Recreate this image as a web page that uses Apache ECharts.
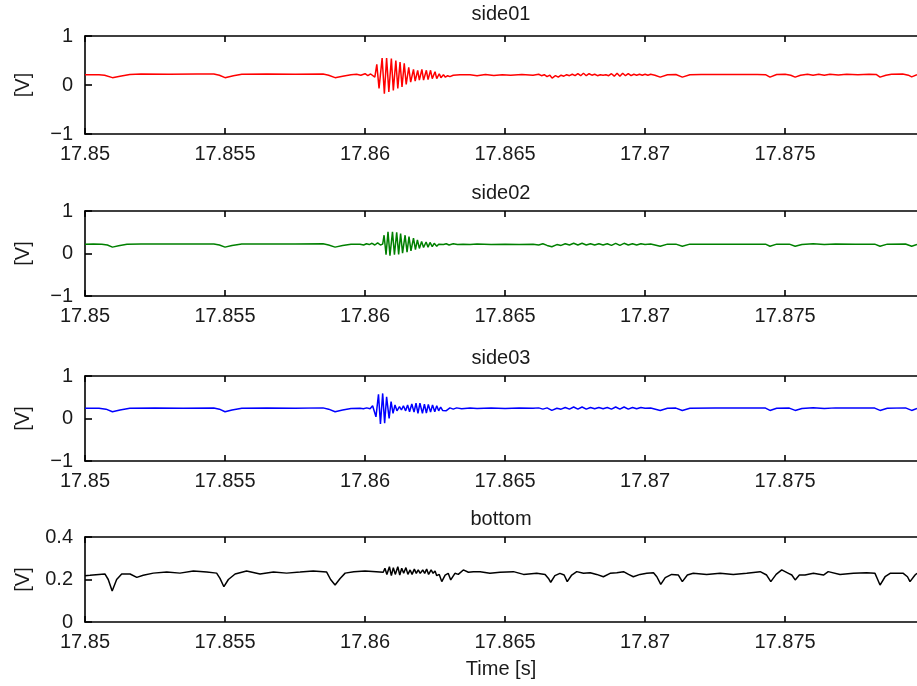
<!DOCTYPE html>
<html>
<head>
<meta charset="utf-8">
<script src="https://cdn.jsdelivr.net/npm/echarts@6/dist/echarts.min.js"></script>
<style>
  html, body { margin: 0; padding: 0; background: #fff; }
  #chart { width: 917px; height: 686px; }
</style>
</head>
<body>
<div id="chart"></div>
<script>
// panel titles and ticks
const titles = ['side01', 'side02', 'side03', 'bottom'];
const timeTicks = [17.85, 17.855, 17.86, 17.865, 17.87, 17.875];
const timeMin = 17.85;
const timeMax = 17.87971;

// side01 (red) [time s, volt]
const side01 = [
  [17.85000, 0.21], [17.85050, 0.21], [17.85070, 0.20], [17.85098, 0.15], [17.85125, 0.18],
  [17.85160, 0.215], [17.85200, 0.225], [17.85300, 0.22], [17.85400, 0.225], [17.85460, 0.225],
  [17.85480, 0.20], [17.85500, 0.15], [17.85530, 0.19], [17.85560, 0.22], [17.85650, 0.225],
  [17.85750, 0.22], [17.85850, 0.225], [17.85870, 0.20], [17.85893, 0.15], [17.85920, 0.18],
  [17.85950, 0.21], [17.85970, 0.22], [17.85985, 0.20], [17.86000, 0.23], [17.86010, 0.19],
  [17.86020, 0.225], [17.86035, 0.16],
  [17.86042, 0.42], [17.86050, -0.07], [17.86061, 0.55], [17.86069, -0.18], [17.86077, 0.55],
  [17.86085, -0.14], [17.86094, 0.54], [17.86101, -0.11], [17.86110, 0.50], [17.86117, -0.07],
  [17.86125, 0.47], [17.86132, -0.04], [17.86140, 0.44], [17.86147, 0.01], [17.86156, 0.36],
  [17.86163, 0.06], [17.86173, 0.32], [17.86179, 0.08], [17.86188, 0.30], [17.86194, 0.10],
  [17.86203, 0.32], [17.86209, 0.10], [17.86219, 0.30], [17.86225, 0.11], [17.86234, 0.30],
  [17.86240, 0.13], [17.86250, 0.27], [17.86256, 0.13], [17.86265, 0.23], [17.86271, 0.15],
  [17.86280, 0.21], [17.86287, 0.16], [17.86295, 0.19], [17.86303, 0.17], [17.86315, 0.20],
  [17.86339, 0.21], [17.86375, 0.21],
  [17.86400, 0.19], [17.86430, 0.215], [17.86460, 0.195], [17.86490, 0.21], [17.86520, 0.20],
  [17.86560, 0.215], [17.86600, 0.20],
  [17.86620, 0.22], [17.86630, 0.19], [17.86640, 0.21], [17.86650, 0.17], [17.86660, 0.20],
  [17.86668, 0.14], [17.86680, 0.19], [17.86690, 0.16], [17.86700, 0.20], [17.86710, 0.18],
  [17.86720, 0.21], [17.86730, 0.19], [17.86740, 0.22], [17.86750, 0.19], [17.86760, 0.23],
  [17.86770, 0.19], [17.86780, 0.24], [17.86790, 0.19], [17.86800, 0.23], [17.86810, 0.20],
  [17.86820, 0.22], [17.86830, 0.19], [17.86840, 0.21], [17.86850, 0.20], [17.86860, 0.21],
  [17.86870, 0.19], [17.86880, 0.23], [17.86890, 0.18], [17.86900, 0.24], [17.86910, 0.18],
  [17.86920, 0.24], [17.86930, 0.19], [17.86940, 0.23], [17.86950, 0.19], [17.86960, 0.22],
  [17.86970, 0.20], [17.86980, 0.22], [17.86990, 0.20], [17.87000, 0.22], [17.87010, 0.20],
  [17.87020, 0.22], [17.87035, 0.20],
  [17.87054, 0.16], [17.87080, 0.21], [17.87110, 0.215], [17.87133, 0.16], [17.87160, 0.21],
  [17.87200, 0.215], [17.87300, 0.215], [17.87400, 0.215], [17.87430, 0.21], [17.87446, 0.16],
  [17.87470, 0.215], [17.87500, 0.22], [17.87520, 0.20], [17.87536, 0.16], [17.87555, 0.20],
  [17.87580, 0.22], [17.87600, 0.20], [17.87620, 0.22], [17.87640, 0.20], [17.87660, 0.22],
  [17.87690, 0.205], [17.87720, 0.22], [17.87760, 0.21], [17.87800, 0.22], [17.87825, 0.215],
  [17.87839, 0.16], [17.87860, 0.20], [17.87880, 0.22], [17.87920, 0.225], [17.87940, 0.20],
  [17.87952, 0.165], [17.87971, 0.21]
];

// side02 (green)
const side02 = [
  [17.85000, 0.22], [17.85030, 0.225], [17.85060, 0.22], [17.85080, 0.20], [17.85098, 0.15],
  [17.85120, 0.18], [17.85150, 0.22], [17.85200, 0.225], [17.85300, 0.225], [17.85400, 0.225],
  [17.85460, 0.225], [17.85480, 0.20], [17.85500, 0.15], [17.85525, 0.19], [17.85560, 0.225],
  [17.85650, 0.225], [17.85750, 0.225], [17.85850, 0.23], [17.85870, 0.20], [17.85893, 0.15],
  [17.85920, 0.19], [17.85950, 0.215],
  [17.85982, 0.22], [17.85995, 0.20], [17.86005, 0.23], [17.86015, 0.21], [17.86025, 0.24],
  [17.86035, 0.20], [17.86045, 0.25], [17.86055, 0.20], [17.86063, 0.22],
  [17.86068, 0.43], [17.86075, -0.03], [17.86082, 0.51], [17.86089, -0.05], [17.86098, 0.51],
  [17.86105, -0.03], [17.86113, 0.50], [17.86120, -0.02], [17.86127, 0.47], [17.86134, 0.01],
  [17.86143, 0.43], [17.86150, 0.03], [17.86157, 0.40], [17.86164, 0.06], [17.86173, 0.36],
  [17.86180, 0.09], [17.86187, 0.32], [17.86194, 0.12], [17.86202, 0.28], [17.86209, 0.14],
  [17.86218, 0.27], [17.86225, 0.15], [17.86232, 0.26], [17.86240, 0.16], [17.86247, 0.24],
  [17.86256, 0.17], [17.86263, 0.22], [17.86270, 0.19],
  [17.86280, 0.21], [17.86290, 0.23], [17.86300, 0.20], [17.86315, 0.23], [17.86330, 0.21],
  [17.86350, 0.22], [17.86375, 0.21], [17.86400, 0.225], [17.86450, 0.21], [17.86500, 0.22],
  [17.86550, 0.21], [17.86600, 0.22],
  [17.86620, 0.20], [17.86635, 0.23], [17.86650, 0.19], [17.86667, 0.16], [17.86685, 0.21],
  [17.86700, 0.19], [17.86715, 0.23], [17.86730, 0.20], [17.86745, 0.24], [17.86760, 0.20],
  [17.86775, 0.24], [17.86790, 0.20], [17.86805, 0.23], [17.86820, 0.20], [17.86835, 0.23],
  [17.86850, 0.20], [17.86865, 0.23], [17.86880, 0.19], [17.86895, 0.24], [17.86910, 0.19],
  [17.86925, 0.24], [17.86940, 0.20], [17.86955, 0.23], [17.86970, 0.20], [17.86985, 0.23],
  [17.87000, 0.21], [17.87020, 0.225],
  [17.87054, 0.17], [17.87080, 0.22], [17.87110, 0.22], [17.87133, 0.17], [17.87160, 0.22],
  [17.87250, 0.22], [17.87350, 0.22], [17.87430, 0.22], [17.87446, 0.17], [17.87470, 0.22],
  [17.87515, 0.22], [17.87536, 0.17], [17.87560, 0.21], [17.87600, 0.23], [17.87640, 0.21],
  [17.87680, 0.225], [17.87750, 0.22], [17.87820, 0.22], [17.87839, 0.17], [17.87865, 0.22],
  [17.87930, 0.225], [17.87952, 0.17], [17.87971, 0.21]
];

// side03 (blue)
const side03 = [
  [17.85000, 0.24], [17.85050, 0.24], [17.85075, 0.22], [17.85098, 0.16], [17.85125, 0.20],
  [17.85160, 0.24], [17.85250, 0.245], [17.85350, 0.24], [17.85460, 0.245], [17.85480, 0.22],
  [17.85500, 0.16], [17.85525, 0.20], [17.85560, 0.24], [17.85650, 0.245], [17.85750, 0.24],
  [17.85850, 0.25], [17.85870, 0.22], [17.85893, 0.16], [17.85920, 0.20], [17.85950, 0.235],
  [17.85982, 0.24], [17.85994, 0.23], [17.86006, 0.25], [17.86018, 0.23], [17.86027, 0.30],
  [17.86032, 0.32], [17.86039, 0.04], [17.86048, 0.57], [17.86055, -0.13], [17.86063, 0.59],
  [17.86070, -0.11], [17.86077, 0.51], [17.86086, 0.00], [17.86093, 0.40], [17.86100, 0.12],
  [17.86107, 0.32], [17.86114, 0.18], [17.86123, 0.28], [17.86130, 0.20], [17.86137, 0.30],
  [17.86145, 0.18], [17.86152, 0.32], [17.86159, 0.16], [17.86167, 0.34], [17.86175, 0.15],
  [17.86182, 0.36], [17.86189, 0.12], [17.86196, 0.36], [17.86205, 0.12], [17.86212, 0.34],
  [17.86219, 0.13], [17.86226, 0.33], [17.86234, 0.15], [17.86241, 0.32], [17.86249, 0.16],
  [17.86256, 0.30], [17.86263, 0.18], [17.86270, 0.27], [17.86277, 0.19], [17.86289, 0.18],
  [17.86303, 0.25], [17.86315, 0.22], [17.86327, 0.25], [17.86345, 0.23], [17.86375, 0.245],
  [17.86400, 0.235], [17.86450, 0.245], [17.86500, 0.235], [17.86550, 0.245], [17.86600, 0.24],
  [17.86620, 0.25], [17.86635, 0.22], [17.86650, 0.25], [17.86667, 0.19], [17.86685, 0.24],
  [17.86700, 0.22], [17.86715, 0.26], [17.86730, 0.22], [17.86745, 0.27], [17.86760, 0.22],
  [17.86775, 0.27], [17.86790, 0.22], [17.86805, 0.26], [17.86820, 0.23], [17.86835, 0.26],
  [17.86850, 0.23], [17.86865, 0.26], [17.86880, 0.22], [17.86895, 0.27], [17.86910, 0.22],
  [17.86925, 0.27], [17.86940, 0.22], [17.86955, 0.26], [17.86970, 0.23], [17.86985, 0.26],
  [17.87000, 0.24], [17.87020, 0.245],
  [17.87054, 0.19], [17.87080, 0.24], [17.87110, 0.245], [17.87133, 0.19], [17.87160, 0.24],
  [17.87250, 0.245], [17.87350, 0.245], [17.87430, 0.245], [17.87446, 0.19], [17.87470, 0.24],
  [17.87515, 0.245], [17.87536, 0.19], [17.87560, 0.235], [17.87600, 0.255], [17.87640, 0.235],
  [17.87680, 0.25], [17.87750, 0.245], [17.87820, 0.245], [17.87839, 0.19], [17.87865, 0.24],
  [17.87930, 0.25], [17.87952, 0.19], [17.87971, 0.235]
];

// bottom (black)
const bottom = [
  [17.85000, 0.218], [17.85018, 0.22], [17.85071, 0.226], [17.85083, 0.20], [17.85097, 0.146],
  [17.85113, 0.20], [17.85131, 0.226], [17.85161, 0.226], [17.85185, 0.21], [17.85208, 0.22],
  [17.85244, 0.23], [17.85292, 0.235], [17.85339, 0.23], [17.85387, 0.24], [17.85435, 0.235],
  [17.85470, 0.23], [17.85482, 0.205], [17.85496, 0.166], [17.85512, 0.20], [17.85536, 0.226],
  [17.85577, 0.24], [17.85625, 0.226], [17.85673, 0.235], [17.85720, 0.23], [17.85768, 0.235],
  [17.85815, 0.24], [17.85863, 0.235], [17.85877, 0.20], [17.85893, 0.174], [17.85911, 0.205],
  [17.85929, 0.23], [17.85960, 0.237], [17.86000, 0.24], [17.86040, 0.237],
  [17.86065, 0.234], [17.86071, 0.253], [17.86078, 0.224], [17.86087, 0.26], [17.86094, 0.218],
  [17.86101, 0.256], [17.86108, 0.224], [17.86117, 0.26], [17.86124, 0.221], [17.86131, 0.253],
  [17.86138, 0.229], [17.86146, 0.256], [17.86153, 0.224], [17.86161, 0.245], [17.86168, 0.224],
  [17.86176, 0.249], [17.86183, 0.229], [17.86190, 0.245], [17.86197, 0.229], [17.86206, 0.245],
  [17.86213, 0.229], [17.86220, 0.249], [17.86227, 0.224], [17.86236, 0.245], [17.86243, 0.229],
  [17.86250, 0.24], [17.86256, 0.218], [17.86265, 0.224], [17.86274, 0.19], [17.86286, 0.221],
  [17.86297, 0.229], [17.86306, 0.198], [17.86321, 0.229], [17.86333, 0.224], [17.86351, 0.245],
  [17.86369, 0.234], [17.86387, 0.237], [17.86411, 0.237],
  [17.86446, 0.229], [17.86482, 0.234], [17.86530, 0.237], [17.86566, 0.224], [17.86613, 0.229],
  [17.86643, 0.224], [17.86655, 0.205], [17.86663, 0.187], [17.86678, 0.218], [17.86696, 0.229],
  [17.86711, 0.221], [17.86722, 0.19], [17.86738, 0.221], [17.86756, 0.237], [17.86780, 0.229],
  [17.86804, 0.232], [17.86827, 0.224], [17.86851, 0.213], [17.86875, 0.229], [17.86899, 0.232],
  [17.86923, 0.237], [17.86941, 0.224], [17.86958, 0.213], [17.86982, 0.224], [17.87006, 0.229],
  [17.87030, 0.232], [17.87042, 0.213], [17.87056, 0.177], [17.87072, 0.209], [17.87095, 0.224],
  [17.87119, 0.221], [17.87133, 0.19], [17.87151, 0.221], [17.87172, 0.229], [17.87220, 0.224],
  [17.87268, 0.229], [17.87315, 0.224], [17.87363, 0.229], [17.87411, 0.237], [17.87434, 0.221],
  [17.87449, 0.19], [17.87468, 0.224], [17.87488, 0.245], [17.87512, 0.229], [17.87524, 0.221],
  [17.87536, 0.198], [17.87551, 0.221], [17.87571, 0.221], [17.87601, 0.229], [17.87637, 0.221],
  [17.87654, 0.237], [17.87696, 0.224], [17.87744, 0.229], [17.87791, 0.232], [17.87821, 0.229],
  [17.87829, 0.205], [17.87839, 0.174], [17.87857, 0.213], [17.87875, 0.229], [17.87922, 0.229],
  [17.87937, 0.213], [17.87946, 0.19], [17.87964, 0.221], [17.87971, 0.229]
];

const seriesData = [side01, side02, side03, bottom];
const colors = ['#ff0000', '#008000', '#0000ff', '#000000'];
const yRanges = [[-1, 1, 1], [-1, 1, 1], [-1, 1, 1], [0, 0.4, 0.2]];

// layout (pixels)
const gridTops = [36, 211, 376, 537];
const gridHeights = [98, 85, 85, 85];
const titleGaps = [12, 8, 8, 8];

const font = 'Liberation Sans';
const textColor = '#1a1a1a';
const lineStyle = { color: '#000', width: 1.6 };

const chart = echarts.init(document.getElementById('chart'));

const grids = [], xAxes = [], yAxes = [], series = [];
for (let i = 0; i < 4; i++) {
  grids.push({ left: 85, right: 0, top: gridTops[i], height: gridHeights[i], containLabel: false });
  // bottom axis with labels
  xAxes.push({
    type: 'value', gridIndex: i, min: timeMin, max: timeMax, position: 'bottom',
    axisLine: { show: true, onZero: false, lineStyle },
    axisTick: { show: true, inside: true, length: 6, customValues: timeTicks, lineStyle },
    axisLabel: { show: true, customValues: timeTicks, fontFamily: font, fontSize: 20, color: textColor, margin: 10,
      formatter: v => String(+v.toFixed(3)) },
    splitLine: { show: false },
    name: i === 3 ? 'Time [s]' : '',
    nameLocation: 'middle', nameGap: 37,
    nameTextStyle: { fontFamily: font, fontSize: 20, color: textColor }
  });
  // top border with title
  xAxes.push({
    type: 'value', gridIndex: i, min: timeMin, max: timeMax, position: 'top',
    axisLine: { show: true, onZero: false, lineStyle },
    axisTick: { show: true, inside: true, length: 6, customValues: timeTicks, lineStyle },
    axisLabel: { show: false },
    splitLine: { show: false },
    name: titles[i], nameLocation: 'middle', nameGap: titleGaps[i],
    nameTextStyle: { fontFamily: font, fontSize: 20, color: textColor }
  });
  const yr = yRanges[i];
  yAxes.push({
    type: 'value', gridIndex: i, min: yr[0], max: yr[1], interval: yr[2],
    axisLine: { show: true, onZero: false, lineStyle },
    axisTick: { show: true, inside: true, length: 7, lineStyle },
    axisLabel: { fontFamily: font, fontSize: 20, color: textColor, margin: 12,
      formatter: v => (v < 0 ? '\u2212' + String(+(-v).toFixed(1)) : String(+v.toFixed(1))) },
    splitLine: { show: false },
    name: '[V]', nameLocation: 'middle', nameRotate: 90, nameGap: 52,
    nameTextStyle: { fontFamily: font, fontSize: 20, color: textColor }
  });
  series.push({
    type: 'line', xAxisIndex: i * 2, yAxisIndex: i, data: seriesData[i],
    showSymbol: false, symbol: 'none', lineStyle: { color: colors[i], width: 1.5 },
    clip: true
  });
}

chart.setOption({
  animation: false,
  backgroundColor: '#fff',
  grid: grids,
  xAxis: xAxes,
  yAxis: yAxes,
  series: series
});
</script>
</body>
</html>
